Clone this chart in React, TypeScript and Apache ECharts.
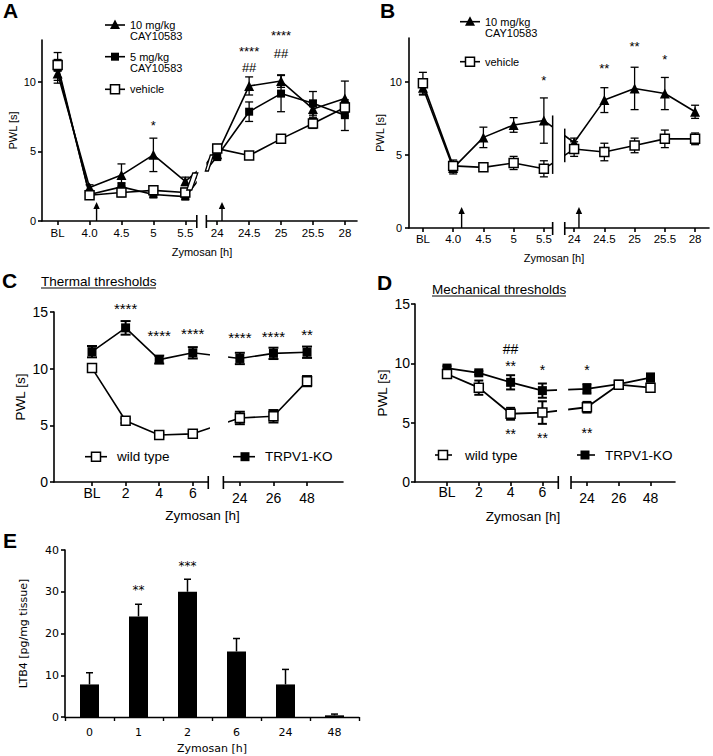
import React, { useEffect, useRef } from 'react';
import * as echarts from 'echarts';

const AR = 'Liberation Sans, Arial, sans-serif';
const VE = 'DejaVu Sans, Verdana, sans-serif';

// ---------- Panel A ----------
const catsA = ['BL', '4.0', '4.5', '5', '5.5', '24', '24.5', '25', '25.5', '28'];
const a10Mean = [10.6, 2.4, 3.3, 4.75, 2.85, 4.8, 9.7, 10.05, 8.05, 8.8];
const a10Err = [0.5, 0.2, 0.8, 1.2, 0.3, 0.3, 0.65, 0.45, 0.6, 1.25];
const a5Mean = [11.0, 1.9, 2.45, 1.9, 1.75, 4.65, 7.85, 9.15, 8.45, 7.6];
const a5Err = [1.1, 0.2, 0.3, 0.2, 0.2, 0.3, 0.7, 1.3, 0.85, 1.1];
const aVehMean = [11.2, 1.85, 2.05, 2.2, 2.05, 5.2, 4.7, 5.9, 7.0, 8.15];
const aVehErr = [0.4, 0.2, 0.3, 0.2, 0.3, 0.3, 0.2, 0.2, 0.35, 0.3];
const sigA = [
  { i: 3, y: 7.1, t: '*' },
  { i: 6, y: 12.4, t: '****' },
  { i: 6, y: 11.0, t: '##' },
  { i: 7, y: 13.5, t: '****' },
  { i: 7, y: 12.05, t: '##' },
];

// ---------- Panel B ----------
const catsB = ['BL', '4.0', '4.5', '5', '5.5', '24', '24.5', '25', '25.5', '28'];
const b10Mean = [9.6, 4.1, 6.2, 7.05, 7.35, 5.85, 8.75, 9.55, 9.2, 7.95];
const b10Err = [0.5, 0.4, 0.7, 0.5, 1.55, 0.3, 0.85, 1.45, 1.1, 0.45];
const bVehMean = [9.9, 4.25, 4.15, 4.45, 4.05, 5.4, 5.2, 5.65, 6.1, 6.1];
const bVehErr = [0.75, 0.4, 0.2, 0.45, 0.55, 0.5, 0.6, 0.5, 0.6, 0.4];
const sigB = [
  { i: 4, y: 10.3, t: '*' },
  { i: 6, y: 11.1, t: '**' },
  { i: 7, y: 12.6, t: '**' },
  { i: 8, y: 11.7, t: '*' },
];

// ---------- Panels C / D ----------
const catsCD = ['BL', '2', '4', '6', '24', '26', '48'];
const cWtMean = [10.05, 5.4, 4.15, 4.25, 5.65, 5.8, 8.9];
const cWtErr = [0.2, 0.2, 0.15, 0.2, 0.55, 0.55, 0.45];
const cKoMean = [11.5, 13.6, 10.8, 11.4, 10.9, 11.35, 11.45];
const cKoErr = [0.5, 0.6, 0.35, 0.5, 0.5, 0.5, 0.5];
const sigC = [
  { i: 1, y: 15.6, t: '****' },
  { i: 2, y: 13.2, t: '****' },
  { i: 3, y: 13.4, t: '****' },
  { i: 4, y: 13.0, t: '****' },
  { i: 5, y: 13.1, t: '****' },
  { i: 6, y: 13.3, t: '**' },
];
const dWtMean = [9.1, 7.95, 5.75, 5.85, 6.3, 8.2, 7.95];
const dWtErr = [0.2, 0.6, 0.5, 0.95, 0.45, 0.2, 0.25];
const dKoMean = [9.6, 9.2, 8.4, 7.7, 7.85, 8.25, 8.8];
const dKoErr = [0.15, 0.15, 0.6, 0.6, 0.4, 0.2, 0.35];
const sigD = [
  { i: 2, y: 11.25, t: '##' },
  { i: 2, y: 10.05, t: '**' },
  { i: 3, y: 9.7, t: '*' },
  { i: 4, y: 9.7, t: '*' },
  { i: 2, y: 4.3, t: '**' },
  { i: 3, y: 3.97, t: '**' },
  { i: 4, y: 4.4, t: '**' },
];

// ---------- Panel E ----------
const catsE = ['0', '1', '2', '6', '24', '48'];
const eMean = [7.8, 24.1, 30.0, 15.7, 7.8, 0.4];
const eErr = [2.8, 2.9, 3.0, 3.1, 3.6, 0.3];
const sigE = [
  { i: 1, y: 31.0, t: '**' },
  { i: 2, y: 36.8, t: '***' },
];

const yTicks13 = [0, 5, 10];
const yTicks15 = [0, 5, 10, 15];
const yTicks40 = [0, 10, 20, 30, 40];

// layout helpers (axis positions of categories)
const posAB = catsA.map((_, i) => i);
const CD_GAP = 0.4;
const posCD = catsCD.map((_, i) => i + (i >= 4 ? CD_GAP : 0));

const BLACK = '#000';

function errSeries(gi: number, xs: number[], means: number[], errs: number[], cap: number, lw: number, topOnly = false) {
  return {
    type: 'custom',
    xAxisIndex: gi,
    yAxisIndex: gi,
    silent: true,
    z: 2,
    data: means.map((m, i) => [xs[i], topOnly ? m : m - errs[i], m + errs[i]]),
    renderItem: (_p: any, api: any) => {
      const lo = api.coord([api.value(0), api.value(1)]);
      const hi = api.coord([api.value(0), api.value(2)]);
      const st = { stroke: BLACK, lineWidth: lw, fill: 'none' };
      const children: any[] = [
        { type: 'line', shape: { x1: lo[0], y1: lo[1], x2: hi[0], y2: hi[1] }, style: st },
        { type: 'line', shape: { x1: hi[0] - cap / 2, y1: hi[1], x2: hi[0] + cap / 2, y2: hi[1] }, style: st },
      ];
      if (!topOnly) {
        children.push({ type: 'line', shape: { x1: lo[0] - cap / 2, y1: lo[1], x2: lo[0] + cap / 2, y2: lo[1] }, style: st });
      }
      return { type: 'group', children };
    },
  };
}

function lineSeries(gi: number, name: string, xs: number[], means: number[], kind: 'tri' | 'sq' | 'open', size: number, lw: number) {
  return {
    type: 'line',
    name,
    xAxisIndex: gi,
    yAxisIndex: gi,
    z: 3,
    data: means.map((m, i) => [xs[i], m]),
    symbol: kind === 'tri' ? 'triangle' : 'rect',
    symbolSize: size,
    showAllSymbol: true,
    lineStyle: { color: BLACK, width: lw },
    itemStyle: kind === 'open'
      ? { color: '#fff', borderColor: BLACK, borderWidth: 1.5 }
      : { color: BLACK, borderColor: BLACK, borderWidth: 0 },
    emphasis: { disabled: true },
  };
}

function xAxisV(gi: number, min: number, max: number, pos: number[], cats: string[], size: number, nameSize: number, margin: number, nameGap: number, namePad: number[], shiftRight = 0) {
  const rich = shiftRight
    ? {
        l: { fontFamily: AR, fontSize: size, color: BLACK },
        r: { fontFamily: AR, fontSize: size, color: BLACK, padding: [shiftRight, 0, 0, 0] },
      }
    : undefined;
  return {
    type: 'value',
    gridIndex: gi,
    min,
    max,
    axisLine: { show: true, onZero: false, lineStyle: { color: BLACK, width: 1.6 } },
    axisTick: { show: true, length: 4, customValues: pos, lineStyle: { color: BLACK, width: 1.6 } },
    axisLabel: {
      customValues: pos,
      margin,
      color: BLACK,
      fontFamily: AR,
      fontSize: size,
      formatter: (v: number) => {
        const i = pos.findIndex((p) => Math.abs(p - v) < 1e-6);
        if (i < 0) return '';
        if (rich) return i >= 4 ? `{r|${cats[i]}}` : `{l|${cats[i]}}`;
        return cats[i];
      },
      rich,
    },
    splitLine: { show: false },
    name: 'Zymosan [h]',
    nameLocation: 'middle',
    nameGap,
    nameTextStyle: { fontFamily: AR, fontSize: nameSize, color: BLACK, padding: namePad },
  };
}

function yAxisV(gi: number, max: number, ticks: number[], size: number, nameSize: number, margin: number, name: string, nameGap: number, font = AR) {
  return {
    type: 'value',
    gridIndex: gi,
    min: 0,
    max,
    axisLine: { show: true, onZero: false, lineStyle: { color: BLACK, width: 1.6 } },
    axisTick: { show: true, length: 4, customValues: ticks, lineStyle: { color: BLACK, width: 1.6 } },
    axisLabel: { customValues: ticks, margin, color: BLACK, fontFamily: font, fontSize: size },
    splitLine: { show: false },
    name,
    nameLocation: 'middle',
    nameGap,
    nameTextStyle: { fontFamily: font, fontSize: nameSize, color: BLACK },
  };
}

function buildOption() {
  const g = (left: number, top: number, width: number, height: number) => ({ left, top, width, height, outerBoundsMode: 'none', containLabel: false });
  return {
    animation: false,
    backgroundColor: '#fff',
    grid: [
      g(42, 40, 315, 181), // A
      g(409, 38, 300, 190), // B
      g(54, 312, 289, 170), // C
      g(415, 304, 260, 178), // D
      g(65, 550, 294, 167), // E
    ],
    xAxis: [
      xAxisV(0, -0.49, 9.38, posAB, catsA, 11.5, 11, 6, 25, [0, 0, 0, 5]),
      xAxisV(1, -0.46, 9.46, posAB, catsB, 11.5, 11, 5, 24, [0, 10, 0, 0]),
      xAxisV(2, -1.131, 7.47, posCD, catsCD, 14, 13.5, 4, 26, [0, 0, 0, 8], 5),
      xAxisV(3, -1.006, 7.17, posCD, catsCD, 14, 13.5, 3, 27, [0, 44, 0, 0], 6),
      {
        type: 'category',
        gridIndex: 4,
        data: catsE,
        axisLine: { show: true, lineStyle: { color: BLACK, width: 1.4 } },
        axisTick: { show: true, length: 4, lineStyle: { color: BLACK, width: 1.4 } },
        axisLabel: { margin: 10, color: BLACK, fontFamily: VE, fontSize: 11 },
        splitLine: { show: false },
        name: 'Zymosan [h]',
        nameLocation: 'middle',
        nameGap: 26,
        nameTextStyle: { fontFamily: VE, fontSize: 11, color: BLACK },
      },
    ],
    yAxis: [
      yAxisV(0, 13, yTicks13, 11, 11, 6, 'PWL [s]', 24),
      yAxisV(1, 13, yTicks13, 11, 11, 7, 'PWL [s]', 23),
      yAxisV(2, 15, yTicks15, 14, 13.5, 6, 'PWL [s]', 27),
      yAxisV(3, 15, yTicks15, 14, 13.5, 5, 'PWL [s]', 26),
      yAxisV(4, 40, yTicks40, 11, 11, 6, 'LTB4 [pg/mg tissue]', 36, VE),
    ],
    series: [
      // A
      errSeries(0, posAB, a10Mean, a10Err, 8, 1.3),
      errSeries(0, posAB, a5Mean, a5Err, 8, 1.3),
      errSeries(0, posAB, aVehMean, aVehErr, 8, 1.3),
      lineSeries(0, '10 mg/kg A', posAB, a10Mean, 'tri', 10, 1.6),
      lineSeries(0, '5 mg/kg A', posAB, a5Mean, 'sq', 8, 1.6),
      lineSeries(0, 'vehicle A', posAB, aVehMean, 'open', 9, 1.6),
      // B
      errSeries(1, posAB, b10Mean, b10Err, 8, 1.3),
      errSeries(1, posAB, bVehMean, bVehErr, 8, 1.3),
      lineSeries(1, '10 mg/kg B', posAB, b10Mean, 'tri', 10, 1.6),
      lineSeries(1, 'vehicle B', posAB, bVehMean, 'open', 9, 1.6),
      // C
      errSeries(2, posCD, cKoMean, cKoErr, 10, 2),
      errSeries(2, posCD, cWtMean, cWtErr, 10, 2),
      lineSeries(2, 'TRPV1-KO C', posCD, cKoMean, 'sq', 9, 1.6),
      lineSeries(2, 'wild type C', posCD, cWtMean, 'open', 9, 1.6),
      // D
      errSeries(3, posCD, dKoMean, dKoErr, 9, 2),
      errSeries(3, posCD, dWtMean, dWtErr, 9, 2),
      lineSeries(3, 'TRPV1-KO D', posCD, dKoMean, 'sq', 9, 1.8),
      lineSeries(3, 'wild type D', posCD, dWtMean, 'open', 9, 1.8),
      // E
      {
        type: 'bar',
        xAxisIndex: 4,
        yAxisIndex: 4,
        data: eMean,
        barWidth: 19,
        itemStyle: { color: BLACK },
        z: 2,
        emphasis: { disabled: true },
      },
      errSeries(4, catsE.map((_, i) => i), eMean, eErr, 7, 1.5, true),
    ],
  };
}

function buildGraphics(chart: any) {
  const px = (gi: number, x: number, y: number) => chart.convertToPixel({ gridIndex: gi }, [x, y]) as number[];
  const els: any[] = [];
  const line = (x1: number, y1: number, x2: number, y2: number, w = 1.6, z = 12) =>
    els.push({ type: 'line', z, silent: true, shape: { x1, y1, x2, y2 }, style: { stroke: BLACK, lineWidth: w } });
  const rect = (x: number, y: number, w: number, h: number, fill = '#fff', stroke: string | null = null, lw = 0, z = 10) =>
    els.push({ type: 'rect', z, silent: true, shape: { x, y, width: w, height: h }, style: { fill, stroke: stroke || undefined, lineWidth: lw } });
  const poly = (pts: number[][], fill: string, stroke: string | null = null, lw = 0, z = 12) =>
    els.push({ type: 'polygon', z, silent: true, shape: { points: pts }, style: { fill, stroke: stroke || undefined, lineWidth: lw } });
  const text = (x: number, y: number, t: string, size: number, font: string, extra: any = {}) =>
    els.push({
      type: 'text',
      z: 20,
      silent: true,
      style: { text: t, x, y, fontSize: size, fontFamily: font, fill: BLACK, align: 'left', verticalAlign: 'middle', ...extra },
    });

  // ---- axis / line breaks ----
  const breaks = [
    { g: 0, top: 13, line: [4.36, 4.66], axis: [4.36, 4.66] },
    { g: 1, top: 13, line: [4.29, 4.69], axis: [4.29, 4.69] },
    { g: 2, top: 15, line: [3.51, 4.05], axis: [3.46, 3.91] },
    { g: 3, top: 15, line: [3.46, 3.81], axis: [3.5, 3.9] },
  ];
  breaks.forEach((b) => {
    const yAx = px(b.g, 0, 0)[1];
    const yTop = px(b.g, 0, b.top)[1];
    const l1 = px(b.g, b.line[0], 0)[0];
    const l2 = px(b.g, b.line[1], 0)[0];
    const a1 = px(b.g, b.axis[0], 0)[0];
    const a2 = px(b.g, b.axis[1], 0)[0];
    rect(l1, yTop - 2, l2 - l1, yAx - 4 - yTop + 2);
    rect(a1, yAx - 4, a2 - a1, 8);
    line(a1, yAx - 6, a1, yAx + 7);
    line(a2, yAx - 6, a2, yAx + 7);
  });

  // A: slanted break symbols on data lines
  {
    const xl = px(0, 4.36, 0)[0];
    const xr = px(0, 4.66, 0)[0];
    poly([[xl - 10, 190], [xl - 5, 190], [xl + 1, 173], [xl - 4, 173]], '#fff', BLACK, 1.3);
    poly([[xr - 1, 171], [xr + 2, 171], [xr + 7, 155], [xr + 4, 155]], '#fff', BLACK, 1.3);
  }
  // B: vertical break bars on data lines
  {
    const xl = px(1, 4.29, 0)[0];
    const xr = px(1, 4.69, 0)[0];
    line(xl, px(1, 0, 7.7)[1], xl, px(1, 0, 3.7)[1], 1.5);
    line(xr, px(1, 0, 6.8)[1], xr, px(1, 0, 4.5)[1], 1.5);
  }

  // arrows (A, B)
  const arrows = [
    { g: 0, p: 1.22, h: 19 },
    { g: 0, p: 5.15, h: 19 },
    { g: 1, p: 1.28, h: 21 },
    { g: 1, p: 5.16, h: 21 },
  ];
  arrows.forEach((a) => {
    const [x, yAx] = px(a.g, a.p, 0);
    const tip = yAx - a.h;
    line(x, yAx, x, tip + 5, 1.4);
    poly([[x, tip], [x - 3.2, tip + 7], [x + 3.2, tip + 7]], BLACK);
  });

  // significance annotations
  const sig = (g: number, list: { i: number; y: number; t: string }[], pos: number[], size: number, font: string) => {
    list.forEach((s) => {
      const [x, y] = px(g, pos[s.i], s.y);
      const dy = s.t.startsWith('*') ? size * 0.22 : 0;
      text(x, y + dy, s.t, size, font, { align: 'center' });
    });
  };
  sig(0, sigA, posAB, 13, AR);
  sig(1, sigB, posAB, 13, AR);
  sig(2, sigC, posCD, 15, AR);
  sig(3, sigD, posCD, 14, AR);
  sig(4, sigE, catsE.map((_, i) => i), 12, VE);

  // legend markers
  const mark = (kind: string, x: number, y: number, s: number) => {
    if (kind === 'tri') poly([[x, y - s * 0.55], [x - s / 2, y + s * 0.4], [x + s / 2, y + s * 0.4]], BLACK, null, 0, 14);
    else if (kind === 'sq') rect(x - s / 2, y - s / 2, s, s, BLACK, null, 0, 14);
    else rect(x - s / 2, y - s / 2, s, s, '#fff', BLACK, 1.5, 14);
  };
  const legend = (x1: number, x2: number, mx: number, tx: number, y: number, kind: string, lines: string[], size: number, s: number, lh: number) => {
    line(x1, y, x2, y, 1.6, 13);
    mark(kind, mx, y, s);
    lines.forEach((t, k) => text(tx, y + k * lh, t, size, AR));
  };
  // A legend
  legend(105, 125, 115, 130, 25, 'tri', ['10 mg/kg', 'CAY10583'], 11, 10, 11);
  legend(105, 125, 115, 130, 56.7, 'sq', ['5 mg/kg', 'CAY10583'], 11, 8, 11);
  legend(105, 125, 115, 130, 89.3, 'open', ['vehicle'], 11, 9, 11);
  // B legend
  legend(460, 480, 470, 485, 21.7, 'tri', ['10 mg/kg', 'CAY10583'], 11, 10, 11);
  legend(460, 480, 470, 485, 61.7, 'open', ['vehicle'], 11, 9, 11);
  // C legend
  legend(85, 107, 96, 117, 456.7, 'open', ['wild type'], 13.5, 9, 14);
  legend(233, 255, 245, 265, 456.7, 'sq', ['TRPV1-KO'], 13.5, 9, 14);
  // D legend
  legend(435, 452, 443, 465, 455, 'open', ['wild type'], 13.5, 9, 14);
  legend(577, 595, 585, 605, 455, 'sq', ['TRPV1-KO'], 13.5, 9, 14);

  // panel letters
  const letter = (x: number, y: number, t: string, size: number) => text(x, y, t, size, AR, { fontWeight: 'bold' });
  letter(3, 10, 'A', 21);
  letter(380, 10, 'B', 21);
  letter(2, 280, 'C', 21);
  letter(377, 282, 'D', 21);
  letter(3, 540, 'E', 21);

  // titles (underlined)
  text(41, 281, 'Thermal thresholds', 13.5, AR);
  line(41, 288, 156, 288, 1, 13);
  text(432, 289, 'Mechanical thresholds', 13.5, AR);
  line(432, 296, 566, 296, 1, 13);

  return els;
}

export default function App() {
  const ref = useRef<HTMLDivElement>(null);
  useEffect(() => {
    if (!ref.current) return;
    const chart = echarts.init(ref.current, null, { renderer: 'svg' });
    chart.setOption(buildOption() as any);
    chart.setOption({ graphic: buildGraphics(chart) } as any);
    return () => chart.dispose();
  }, []);
  return (
    <div
      ref={ref}
      style={{ position: 'fixed', left: 0, top: 0, width: 713, height: 756, background: '#fff' }}
    />
  );
}
